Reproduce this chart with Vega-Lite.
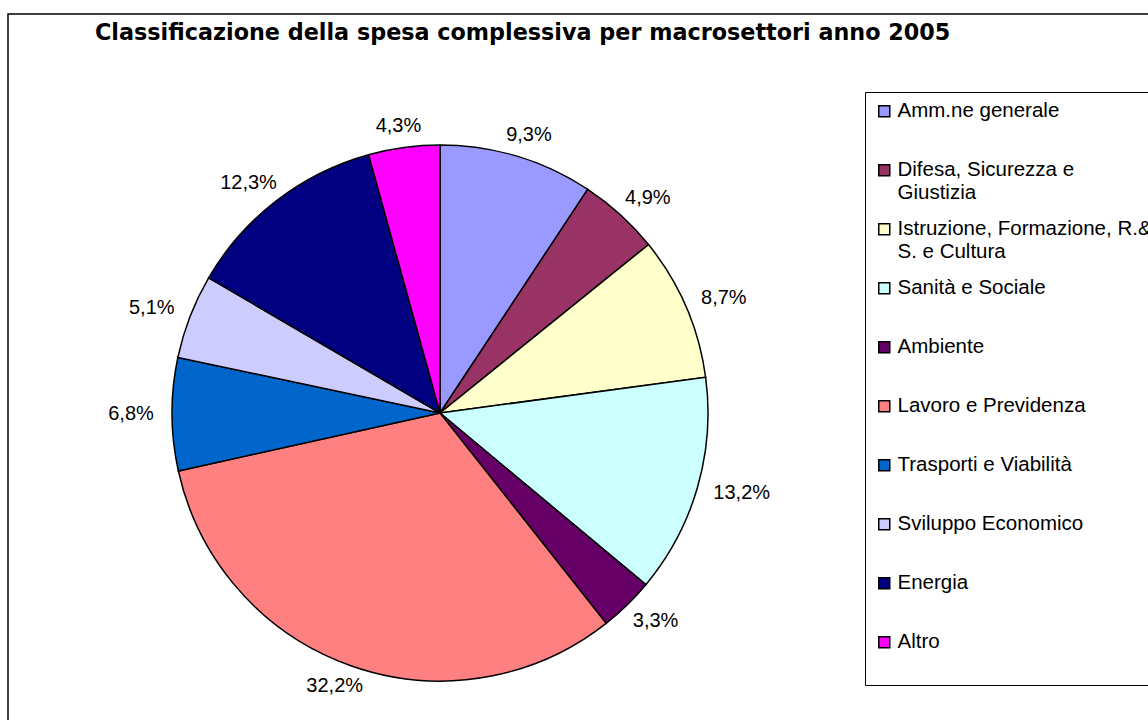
{
  "$schema": "https://vega.github.io/schema/vega-lite/v6.json",
  "width": 1150,
  "height": 716,
  "autosize": {"type": "none"},
  "padding": {"left": 8, "top": 14, "right": -10, "bottom": -10},
  "background": "white",
  "view": {"stroke": "black", "strokeWidth": 1.5, "fill": "white"},
  "title": {
    "text": "Classificazione della spesa complessiva per macrosettori anno 2005",
    "anchor": "start",
    "orient": "top",
    "frame": "group",
    "offset": 0,
    "dx": 87,
    "dy": 48,
    "baseline": "alphabetic",
    "font": "DejaVu Sans",
    "fontWeight": "bold",
    "fontSize": 22.3,
    "color": "black"
  },
  "data": {
    "values": [
      {"settore": "Amm.ne generale", "quota": 0.093, "ordine": 1},
      {"settore": "Difesa, Sicurezza e Giustizia", "quota": 0.049, "ordine": 2},
      {"settore": "Istruzione, Formazione, R.&S. e Cultura", "quota": 0.087, "ordine": 3},
      {"settore": "Sanità e Sociale", "quota": 0.132, "ordine": 4},
      {"settore": "Ambiente", "quota": 0.033, "ordine": 5},
      {"settore": "Lavoro e Previdenza", "quota": 0.322, "ordine": 6},
      {"settore": "Trasporti e Viabilità", "quota": 0.068, "ordine": 7},
      {"settore": "Sviluppo Economico", "quota": 0.051, "ordine": 8},
      {"settore": "Energia", "quota": 0.123, "ordine": 9},
      {"settore": "Altro", "quota": 0.043, "ordine": 10}
    ]
  },
  "encoding": {
    "theta": {"field": "quota", "type": "quantitative", "stack": true},
    "order": {"field": "ordine", "type": "quantitative"},
    "x": {"datum": 0, "type": "quantitative", "scale": {"domain": [-1.612, 2.679], "nice": false, "zero": false}, "axis": null},
    "y": {"datum": 0, "type": "quantitative", "scale": {"domain": [-1.183, 1.489], "nice": false, "zero": false}, "axis": null}
  },
  "layer": [
    {
      "mark": {"type": "arc", "outerRadius": 268, "stroke": "black", "strokeWidth": 1.5},
      "encoding": {
        "color": {
          "field": "settore",
          "type": "nominal",
          "sort": null,
          "scale": {
            "domain": ["Amm.ne generale", "Difesa, Sicurezza e Giustizia", "Istruzione, Formazione, R.&S. e Cultura", "Sanità e Sociale", "Ambiente", "Lavoro e Previdenza", "Trasporti e Viabilità", "Sviluppo Economico", "Energia", "Altro"],
            "range": ["#9999FF", "#993366", "#FFFFCC", "#CCFFFF", "#660066", "#FF8080", "#0066CC", "#CCCCFF", "#000080", "#FF00FF"]
          },
          "legend": {
            "orient": "none",
            "legendX": 857,
            "legendY": 78,
            "title": null,
            "symbolType": "square",
            "symbolSize": 121,
            "symbolStrokeColor": "black",
            "symbolStrokeWidth": 1.5,
            "symbolOpacity": 1,
            "labelFont": "Liberation Sans",
            "labelFontSize": 20.5,
            "labelColor": "black",
            "labelLimit": 600,
            "labelOffset": 3,
            "strokeColor": "black",
            "fillColor": "white",
            "padding": 9,
            "gridAlign": "all",
            "rowPadding": 15,
            "labelExpr": "datum.label == 'Difesa, Sicurezza e Giustizia' ? ['Difesa, Sicurezza e', 'Giustizia'] : datum.label == 'Istruzione, Formazione, R.&S. e Cultura' ? ['Istruzione, Formazione, R.&', 'S. e Cultura'] : datum.label == 'Altro' ? ['Altro', ' '] : datum.label"
          }
        }
      }
    },
    {
      "mark": {
        "type": "text",
        "radius": 282,
        "font": "Liberation Sans",
        "fontSize": 20,
        "color": "black",
        "dx": {"expr": "sin(scale('theta', (datum.quota_start + datum.quota_end) / 2)) * (datum.quota >= 0.1 ? 32 : 27)"},
        "dy": {"expr": "-cos(scale('theta', (datum.quota_start + datum.quota_end) / 2)) * 8"}
      },
      "encoding": {
        "text": {"field": "quota", "type": "quantitative", "format": ".1%"}
      }
    }
  ],
  "config": {
    "locale": {
      "number": {"decimal": ",", "thousands": ".", "grouping": [3], "currency": ["", " €"]}
    }
  }
}
